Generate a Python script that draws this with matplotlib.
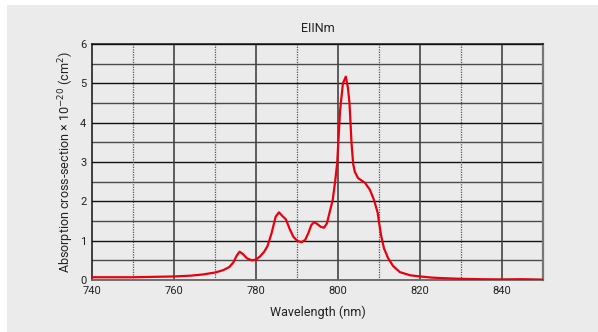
import matplotlib
matplotlib.use("Agg")
import matplotlib.pyplot as plt
from matplotlib.patches import Rectangle

plt.rcParams["font.family"] = ["Roboto", "DejaVu Sans"]

wavelength = [740, 745, 750, 755, 760, 764, 767, 770, 772, 773.5, 774.5, 775.3, 776, 776.8,
              777.8, 779, 780, 781, 782, 782.8, 783.8, 784.8, 785.6, 786.5, 787.3, 788.2,
              789.1, 790, 791.1, 792, 792.8, 793.5, 794.2, 795, 795.8, 796.6, 797.3, 798,
              798.7, 799.3, 799.8, 800.5, 801.2, 801.9, 802.4, 802.8, 803.3, 803.7, 804.1,
              804.9, 805.6, 806.6, 807.8, 808.8, 809.7, 810, 810.5, 811.2, 812.2, 813.4,
              815.1, 817.6, 820, 823, 826, 830, 835, 840, 845, 850]
cross_section = [0.07, 0.07, 0.07, 0.08, 0.09, 0.11, 0.14, 0.19, 0.25, 0.33, 0.45, 0.62, 0.72, 0.66,
                 0.55, 0.5, 0.52, 0.6, 0.72, 0.86, 1.19, 1.61, 1.72, 1.62, 1.54, 1.3,
                 1.1, 1.0, 0.96, 1.02, 1.2, 1.4, 1.47, 1.42, 1.35, 1.33, 1.44, 1.74,
                 2.03, 2.5, 2.97, 4.3, 5.0, 5.17, 4.9, 4.5, 3.48, 2.95, 2.75,
                 2.59, 2.54, 2.47, 2.29, 2.03, 1.7, 1.47, 1.14, 0.81, 0.56, 0.36,
                 0.2, 0.12, 0.09, 0.06, 0.045, 0.03, 0.02, 0.015, 0.02, 0.01]

x_ticks = [740, 760, 780, 800, 820, 840]
x_dotted = [750, 770, 790, 810, 830]
y_ticks = [0, 1, 2, 3, 4, 5, 6]
y_half = [0.5, 1.5, 2.5, 3.5, 4.5, 5.5]

W, H = 598, 332
fig = plt.figure(figsize=(W / 100, H / 100), dpi=100, facecolor="white")
bg = "#ebebeb"
fig.patches.append(Rectangle((7 / W, 0), 1, (H - 5) / H, transform=fig.transFigure,
                             facecolor=bg, edgecolor="none", zorder=-10))

ax = fig.add_axes([92 / W, (H - 280) / H, (543 - 92) / W, (280 - 44) / H])
ax.set_zorder(5)
ax.set_facecolor(bg)

for y in y_half:
    ax.axhline(y, color="#4a4a4a", lw=1.0, zorder=1)
for y in y_ticks:
    ax.axhline(y, color="#111111", lw=1.0, zorder=1)
for x in x_ticks[1:]:
    ax.axvline(x, color="#444444", lw=1.2, zorder=1)
for x in x_dotted:
    ax.axvline(x, color="#555555", lw=0.9, ls=(0, (1, 1)), zorder=1)

ax.plot(wavelength, cross_section, color="#e8000e", lw=1.6, zorder=3)

ax.set_xlim(740, 850)
ax.set_ylim(0, 6)
ax.set_xticks(x_ticks)
ax.set_yticks(y_ticks)
ax.tick_params(length=0, labelsize=8, colors="#222222", pad=4)
for s in ["left", "top"]:
    ax.spines[s].set_color("#111111")
    ax.spines[s].set_linewidth(1.1)
ax.spines["right"].set_color("#777777")
ax.spines["right"].set_linewidth(1.6)
ax.spines["bottom"].set_color("#666666")
ax.spines["bottom"].set_linewidth(1.3)

ax.set_title("EIINm", fontsize=9, color="#222222", pad=9)
ax.set_xlabel("Wavelength (nm)", fontsize=9, color="#222222", labelpad=7)
ax.set_ylabel("Absorption cross-section \u00d7 10$^{-20}$ (cm$^{2}$)", fontsize=9,
              color="#222222", labelpad=3)

fig.savefig("out.png", dpi=100, facecolor="white")
